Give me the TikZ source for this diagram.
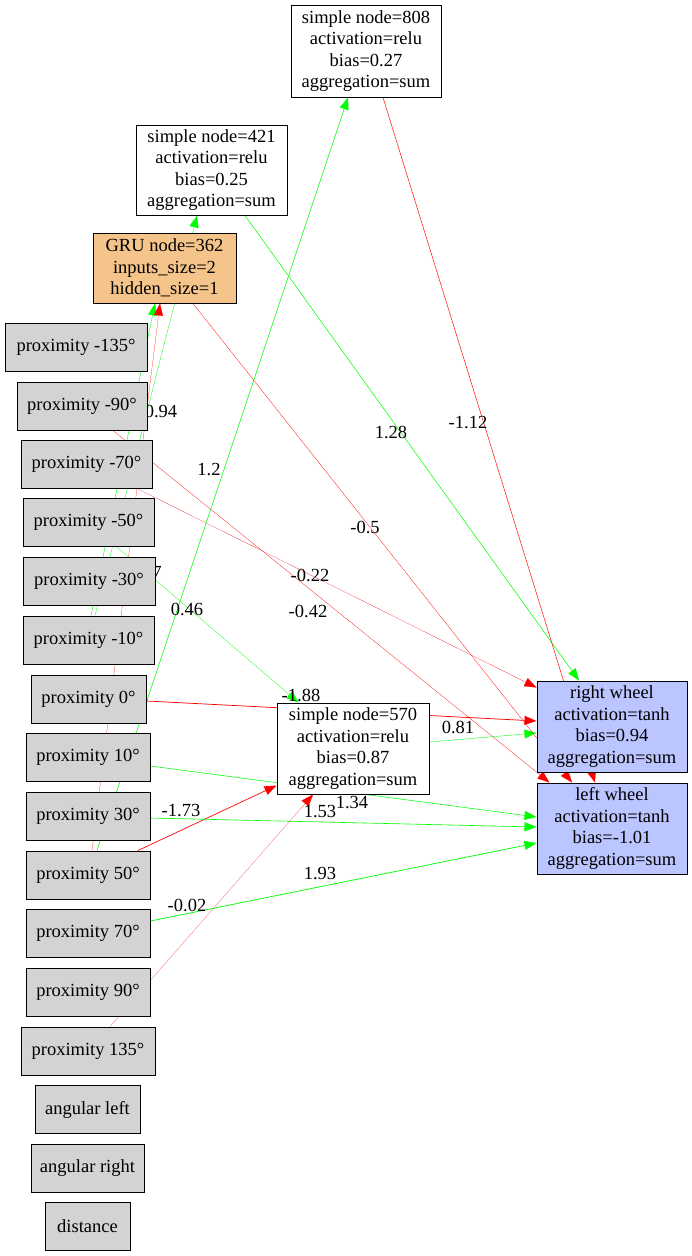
\documentclass[tikz,border=0pt]{standalone}
\usepackage{fontspec}
\setmainfont{Liberation Serif}
\usetikzlibrary{arrows.meta,backgrounds,calc}
\definecolor{inputgray}{RGB}{211,211,211}
\definecolor{outblue}{RGB}{187,197,255}
\definecolor{gruorange}{RGB}{245,196,138}
\definecolor{posgreen}{RGB}{0,255,0}
\definecolor{negred}{RGB}{255,0,0}

\begin{document}
\begin{tikzpicture}[x=1pt,y=-1pt,
  every node/.style={font=\fontsize{18.5}{21.5}\selectfont},
  nbox/.style={draw=black, line width=1pt, align=center, inner sep=0pt, minimum height=48pt},
  inbox/.style={nbox, fill=inputgray},
  hidbox/.style={nbox, fill=white},
  grubox/.style={nbox, fill=gruorange},
  outbox/.style={nbox, fill=outblue},
  wlabel/.style={inner sep=0pt},
  conn/.style={-{Triangle[length=12pt,width=9pt]}},
  greenedge/.style={conn, draw=posgreen, line width=#1},
  rededge/.style={conn, draw=negred, line width=#1},
]
\useasboundingbox (0,0) rectangle (692,1256);

% hidden and recurrent nodes
\node[hidbox, minimum width=150pt, minimum height=92pt] (n808) at (366,51)
  {simple node=808\\activation=relu\\bias=0.27\\aggregation=sum};
\node[hidbox, minimum width=151pt, minimum height=90pt] (n421) at (211.5,170)
  {simple node=421\\activation=relu\\bias=0.25\\aggregation=sum};
\node[grubox, minimum width=143pt, minimum height=70pt] (gru) at (164.5,268)
  {GRU node=362\\inputs\_size=2\\hidden\_size=1};
\node[hidbox, minimum width=152pt, minimum height=91pt] (n570) at (353,748.5)
  {simple node=570\\activation=relu\\bias=0.87\\aggregation=sum};

% outputs
\node[outbox, minimum width=150pt, minimum height=91pt] (rw) at (612,726.5)
  {right wheel\\activation=tanh\\bias=0.94\\aggregation=sum};
\node[outbox, minimum width=150pt, minimum height=91pt] (lw) at (612,828.5)
  {left wheel\\activation=tanh\\bias=-1.01\\aggregation=sum};

% sensor inputs
\node[inbox, minimum width=142pt] (pm135) at (76,347)    {proximity -135°};
\node[inbox, minimum width=130pt] (pm90)  at (82,406)    {proximity -90°};
\node[inbox, minimum width=131pt] (pm70)  at (86.5,464)  {proximity -70°};
\node[inbox, minimum width=131pt] (pm50)  at (88.5,522.5){proximity -50°};
\node[inbox, minimum width=132pt] (pm30)  at (89,581.5)  {proximity -30°};
\node[inbox, minimum width=131pt] (pm10)  at (88.5,640)  {proximity -10°};
\node[inbox, minimum width=115pt] (p0)    at (88.5,699)  {proximity 0°};
\node[inbox, minimum width=124pt] (p10)   at (88,757.5)  {proximity 10°};
\node[inbox, minimum width=124pt] (p30)   at (88,816.5)  {proximity 30°};
\node[inbox, minimum width=124pt] (p50)   at (88,875)    {proximity 50°};
\node[inbox, minimum width=124pt] (p70)   at (88,933.5)  {proximity 70°};
\node[inbox, minimum width=124pt] (p90)   at (88,992.5)  {proximity 90°};
\node[inbox, minimum width=134pt] (p135)  at (88,1051)   {proximity 135°};
\node[inbox, minimum width=105pt] (angl)  at (87.5,1109.5) {angular left};
\node[inbox, minimum width=113pt] (angr)  at (87.5,1168.5) {angular right};
\node[inbox, minimum width=85pt]  (dist)  at (87.5,1226.5) {distance};

% weighted connections, drawn beneath the nodes
\begin{pgfonlayer}{background}
\draw[greenedge=0.41pt] ($(pm10.north)+(2.5,0)$) -- ($(gru.south)+(-9.5,0)$);
\draw[greenedge=0.3pt]  ($(pm10.north)+(6.5,0)$) -- ($(n421.south)+(-14.5,0)$);
\draw[rededge=0.2pt]    ($(p50.north)+(4,0)$) -- ($(gru.south)+(-4.5,0)$);
\draw[greenedge=0.5pt]  ($(p50.north)+(9,0)$) -- ($(n808.south)+(-18,0)$);
\draw[rededge=0.68pt]   ($(p50.north)+(50,0)$) -- ($(n570.south west)+(0,-9)$);
\draw[greenedge=0.25pt] ($(pm50.south)+(28.5,0)$) -- ($(n570.north west)+(22,0)$);
\draw[rededge=0.17pt]   ($(pm70.south)+(50.5,0)$) -- ($(rw.north west)+(0,7)$);
\draw[rededge=0.24pt]   ($(pm90.south)+(31,0)$) -- ($(lw.north west)+(13,0)$);
\draw[rededge=0.73pt]   ($(p0.east)+(0,2)$) -- ($(rw.west)+(0,-5.5)$);
\draw[greenedge=0.37pt] ($(n570.east)+(0,-6.5)$) -- ($(rw.west)+(0,6.5)$);
\draw[greenedge=0.55pt] ($(p10.east)+(0,8.5)$) -- ($(lw.west)+(0,-11.5)$);
\draw[greenedge=0.61pt] ($(p30.east)+(0,1.5)$) -- ($(lw.west)+(0,-1.5)$);
\draw[greenedge=0.74pt] ($(p70.east)+(0,-12.5)$) -- ($(lw.west)+(0,14.5)$);
\draw[rededge=0.11pt]   ($(p135.north)+(22,0)$) -- ($(n570.south)+(-40,0)$);
\draw[greenedge=0.53pt] ($(n421.south)+(33.5,0)$) -- ($(rw.north)+(-33,0)$);
\draw[rededge=0.47pt]   ($(n808.south)+(17,0)$) -- ($(lw.north)+(-17,0)$);
\draw[rededge=0.27pt]   ($(gru.south)+(28.5,0)$) -- ($(lw.north)+(-40,0)$);

% weight labels
\node[wlabel] (w1)  at (161,411) {0.94};
\node[wlabel] (w2)  at (391,432) {1.28};
\node[wlabel] (w3)  at (468,423) {-1.12};
\node[wlabel] (w4)  at (209,469) {1.2};
\node[wlabel] (w5)  at (365,527) {-0.5};
\node[wlabel] (w6)  at (157,572) {7};
\node[wlabel] (w7)  at (310,575) {-0.22};
\node[wlabel] (w8)  at (187,609) {0.46};
\node[wlabel] (w9)  at (308,611) {-0.42};
\node[wlabel] (w10) at (301,695) {-1.88};
\node[wlabel] (w11) at (458,727) {0.81};
\node[wlabel] (w12) at (352,802) {1.34};
\node[wlabel] (w13) at (320,811) {1.53};
\node[wlabel] (w14) at (181,810) {-1.73};
\node[wlabel] (w15) at (320,873) {1.93};
\node[wlabel] (w16) at (187,905) {-0.02};
\end{pgfonlayer}
\end{tikzpicture}
\end{document}
